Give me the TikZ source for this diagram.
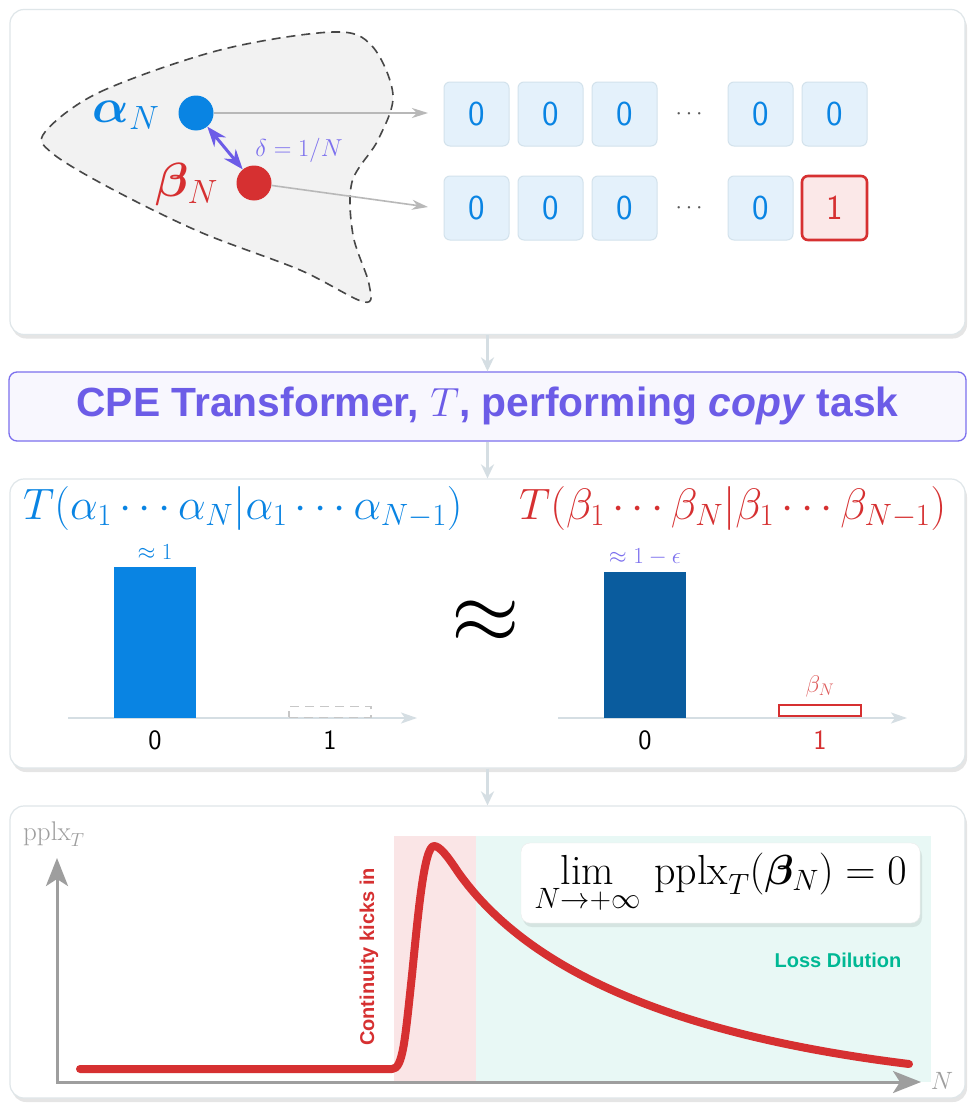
\RequirePackage{fix-cm}
\documentclass[tikz,border=0pt]{standalone}
\usepackage{amsmath,bm}
\usepackage{fontspec}
\newfontfamily\headfont{Liberation Sans}
\usetikzlibrary{arrows.meta,shadows}
\definecolor{cblue}{HTML}{0984E3}
\definecolor{cdblue}{HTML}{0A5C9E}
\definecolor{cred}{HTML}{D63031}
\definecolor{cpurple}{HTML}{6C5CE7}
\definecolor{clpurple}{HTML}{7C70EE}
\definecolor{cteal}{HTML}{00B894}
\definecolor{cborder}{HTML}{DFE6E9}
\definecolor{cconn}{HTML}{D5DEE3}
\definecolor{ctokf}{HTML}{E4F1FB}
\definecolor{ctokb}{HTML}{D3E2EC}
\definecolor{credf}{HTML}{FBE8E8}
\definecolor{cpink}{HTML}{FAE5E6}
\definecolor{ctealf}{HTML}{E8F8F5}
\definecolor{cgray}{HTML}{9E9E9E}
\definecolor{cblob}{HTML}{F2F2F2}
\definecolor{ctitlef}{HTML}{F8F7FE}
\begin{document}
\begin{tikzpicture}[x=1pt,y=-1pt,
  panel/.style={draw=cborder, line width=1.2pt, fill=white, rounded corners=14pt,
    drop shadow={shadow xshift=2pt, shadow yshift=-4pt, opacity=0.10, fill=black}},
  titlebox/.style={draw=clpurple, line width=1.3pt, fill=ctitlef, rounded corners=8pt,
    text=cpurple, font=\headfont\bfseries\fontsize{40.8}{48}\selectfont},
  conn/.style={draw=cconn, line width=3pt, -{Stealth[length=14pt,width=13pt]}},
  token/.style={draw=ctokb, fill=ctokf, line width=1pt, rounded corners=6pt,
    minimum width=65pt, minimum height=64pt, inner sep=0pt, text=cblue,
    font=\sffamily\fontsize{35}{40}\selectfont},
  redtoken/.style={token, draw=cred, fill=credf, line width=2.6pt, text=cred},
  dotnode/.style={circle, inner sep=0pt, minimum size=35pt},
  garrow/.style={draw=black!28, line width=1.6pt, -{Stealth[length=16pt,width=10pt,inset=5pt]}},
  blob/.style={draw=black!72, fill=cblob, line width=1.6pt, dash pattern=on 9pt off 6pt},
  baxis/.style={draw=cconn, line width=2pt, -{Stealth[length=16pt,width=11pt,inset=4pt]}},
  bar/.style={inner sep=0pt, minimum width=82pt, anchor=south},
  tick/.style={font=\sffamily\fontsize{28}{32}\selectfont},
  gaxis/.style={draw=cgray, line width=3pt},
  limbox/.style={draw=black!8, fill=white, rounded corners=9pt,
    drop shadow={shadow xshift=2pt, shadow yshift=-4pt, opacity=0.08, fill=black}}
]
\fill[white] (0,0) rectangle (975,1108);
\useasboundingbox (0,0) rectangle (975,1108);

% panels
\node[panel, minimum width=955pt, minimum height=325pt] (p1) at (487.5,172) {};
\node[titlebox, minimum width=957pt, minimum height=69pt] (ttl) at (487.5,406.5)
  {CPE Transformer, $T$, performing \textit{copy} task};
\node[panel, minimum width=955pt, minimum height=289pt] (p2) at (487.5,623.5) {};
\node[panel, minimum width=955pt, minimum height=292pt] (p3) at (487.5,952) {};
\draw[conn] (p1.south) -- (ttl.north);
\draw[conn] (ttl.south) -- (p2.north);
\draw[conn] (p2.south) -- (p3.north);

% ---- panel 1
\draw[blob] plot[smooth cycle, tension=0.55] coordinates {
  (45,132) (100,92) (220,50) (333,32) (372,46) (393,95) (378,140) (352,182)
  (353,235) (369,284) (364,302) (300,270) (200,232) (110,188) (52,153)};
\node[dotnode, fill=cblue] (alpha) at (196,113) {};
\node[dotnode, fill=cred] (beta) at (254,183) {};
\coordinate (ta) at (428,113);
\coordinate (tb) at (428,207);
\draw[garrow] (alpha) -- (ta);
\draw[garrow] (beta) -- (tb);
\draw[draw=cpurple, line width=3pt, {Stealth[length=20pt,width=15pt]}-{Stealth[length=20pt,width=15pt]}]
  (alpha) -- (beta);
\node[text=cblue, anchor=base, inner sep=0pt, font=\fontsize{48}{56}\selectfont] (alab) at (126,122) {$\boldsymbol{\alpha}_N$};
\node[text=cred, anchor=base, inner sep=0pt, font=\fontsize{48}{56}\selectfont] (blab) at (187,196) {$\boldsymbol{\beta}_N$};
\node[text=clpurple, anchor=base, inner sep=0pt, font=\fontsize{24.5}{28}\selectfont] (dlab) at (299,156) {$\delta=1/N$};

\foreach \i/\x in {1/476.5,2/550.5,3/624.5,4/760.5,5/834.5}
  \node[token] (a\i) at (\x,114) {0};
\foreach \i/\x in {1/476.5,2/550.5,3/624.5,4/760.5}
  \node[token] (b\i) at (\x,208) {0};
\node[redtoken] (b5) at (834.5,208) {1};
\node[text=black!65, font=\fontsize{23}{26}\selectfont] (adots) at (691,114) {$\cdots$};
\node[text=black!65, font=\fontsize{23}{26}\selectfont] (bdots) at (691,208) {$\cdots$};

% ---- panel 2
\node[text=cblue, anchor=base west, inner sep=0pt, font=\fontsize{44}{50}\selectfont] (tl) at (23,519)
  {$T(\alpha_1\cdots\alpha_N|\alpha_1\cdots\alpha_{N-1})$};
\node[text=cred, anchor=base west, inner sep=0pt, font=\fontsize{44}{50}\selectfont] (tr) at (519,519)
  {$T(\beta_1\cdots\beta_N|\beta_1\cdots\beta_{N-1})$};
\coordinate (l0) at (68,718); \coordinate (l1) at (417,718);
\coordinate (r0) at (558,718); \coordinate (r1) at (907,718);
\draw[baxis] (l0) -- (l1);
\draw[baxis] (r0) -- (r1);
\node[bar, fill=cblue, minimum height=151pt] (bl0) at (155,718) {};
\node[bar, draw=black!22, dash pattern=on 9pt off 6pt, line width=1.4pt, minimum height=11pt] (bl1) at (330,718) {};
\node[text=cblue, anchor=base, inner sep=0pt, font=\fontsize{23}{26}\selectfont] (bl0lab) at (155,559) {$\approx 1$};
\node[tick] (tl0) at (155,740) {0};
\node[tick] (tl1) at (330,740) {1};
\node[bar, fill=cdblue, minimum height=146pt] (br0) at (645,718) {};
\node[bar, draw=cred, fill=white, line width=2.4pt, minimum height=11pt] (br1) at (820,717) {};
\node[text=clpurple, anchor=base, inner sep=0pt, font=\fontsize{23}{26}\selectfont] (br0lab) at (645,563) {$\approx 1-\epsilon$};
\node[text=cred!80, anchor=base, inner sep=0pt, font=\fontsize{24}{26}\selectfont] (br1lab) at (820,692) {$\beta_N$};
\node[tick] (tr0) at (645,740) {0};
\node[tick, text=cred] (tr1) at (820,740) {1};
\node[font=\fontsize{88}{90}\selectfont] (approx) at (486,622) {$\approx$};

% ---- panel 3
\fill[cpink] (394,836) rectangle (476,1082);
\fill[ctealf] (476,836) rectangle (931,1082);
\coordinate (o) at (57,1082); \coordinate (yt) at (57,858); \coordinate (xt) at (921,1082);
\draw[gaxis, {Stealth[length=28pt,width=22pt,inset=7pt]}-{Stealth[length=28pt,width=22pt,inset=7pt]}]
  (yt) -- (o) -- (xt);
\draw[draw=cred, line width=8pt, line cap=round, line join=round]
  (80,1069) -- (392,1069) .. controls (403,1069) and (405,1040) .. (412,975)
  .. controls (418,915) and (424,846) .. (434,846)
  .. controls (440,846) and (448,857) .. (458,872)
  .. controls (520,960) and (650,1032) .. (909,1064);
\node[rotate=90, text=cred, font=\headfont\bfseries\fontsize{20}{24}\selectfont] (cki) at (369,957) {Continuity kicks in};
\node[text=cteal, font=\headfont\bfseries\fontsize{20}{24}\selectfont] (ld) at (838,960) {Loss Dilution};
\node[limbox, minimum width=399pt, minimum height=80pt, font=\fontsize{42}{46}\selectfont] (lim) at (720.5,883)
  {$\displaystyle\lim_{N\to+\infty}\,\mathrm{pplx}_T(\boldsymbol{\beta}_N)=0$};
\node[text=cgray, anchor=base west, inner sep=0pt, font=\fontsize{27}{30}\selectfont] (ylab) at (23,840) {$\mathrm{pplx}_T$};
\node[text=cgray, font=\fontsize{25}{30}\selectfont] (xlab) at (942,1081) {$N$};
\end{tikzpicture}
\end{document}
